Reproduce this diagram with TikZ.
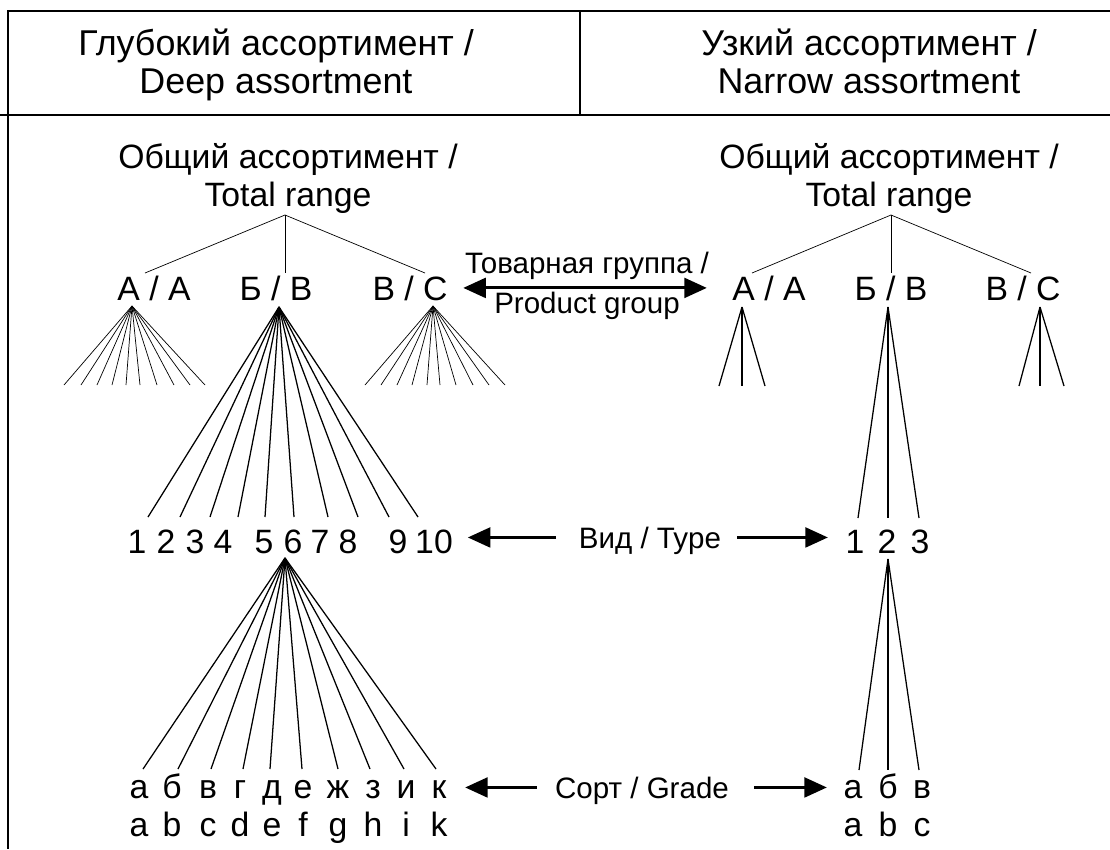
\documentclass[tikz,border=0pt]{standalone}
\usepackage{fontspec}
\setmainfont{Liberation Sans}
\usetikzlibrary{arrows.meta}
\begin{document}
\begin{tikzpicture}[x=0.025cm, y=-0.025cm,
  head/.style = {font=\fontsize{25.5}{27}\selectfont, inner sep=0pt, anchor=base, align=center},
  big/.style = {font=\fontsize{24}{27}\selectfont, inner sep=0pt, anchor=base, align=center},
  small/.style = {font=\fontsize{21}{28.4}\selectfont, inner sep=0pt, anchor=base, align=center},
  bigline/.style = {big, text height=17.2pt, text depth=0pt},
  smallline/.style = {small, text height=15pt, text depth=0pt},
  frame/.style = {line width=1.1pt},
  twig/.style = {line width=0.5pt},
  branch/.style = {line width=0.9pt},
  bigarrow/.style = {line width=2.2pt, -{Triangle[length=16pt,width=14pt]}},
  dblarrow/.style = {line width=2.2pt, {Triangle[length=16pt,width=14pt]}-{Triangle[length=16pt,width=14pt]}}]
\useasboundingbox (0,0) rectangle (1110,849);
% table frame
\draw[frame] (1110,11) -- (8,11) -- (8,849);
\draw[frame] (0,115) -- (1110,115);
\draw[frame] (580,11) -- (580,115);
% column heads
\node[head] (deep) at (276,93) {Глубокий ассортимент /\\Deep assortment};
\node[head] (narrow) at (869,93) {Узкий ассортимент /\\Narrow assortment};
% deep assortment
\node[big] (totL) at (288,206) {Общий ассортимент /\\Total range};
\node[bigline] (gA) at (154,300) {А / A};
\node[bigline] (gB) at (276,300) {Б / B};
\node[bigline] (gC) at (410,300) {В / C};
\coordinate (rootL) at (285,215);
\coordinate (topA) at (145,273);
\coordinate (topB) at (285,273);
\coordinate (topC) at (425,273);
\draw[twig] (topA) -- (rootL) -- (topC);
\draw[twig] (rootL) -- (topB);
\coordinate (apA) at (132,306);
\coordinate (apB) at (279,307);
\coordinate (apC) at (433,306);
\foreach \x [count=\i] in {64,81,97,112,126,140,157,174,190,205}
  \draw[twig] (apA) -- (\x,385) coordinate (fa\i);
\foreach \x [count=\i] in {365,381,397,412,427,440,456,473,489,505}
  \draw[twig] (apC) -- (\x,385) coordinate (fc\i);
\foreach \x/\t [count=\i] in {137/1,166/2,195/3,223/4,264/5,293/6,320/7,348/8,398/9,434/10}
  \node[bigline] (n\i) at (\x,553) {\t};
\foreach \x [count=\i] in {148,180,210,238,265,294,328,358,389,418}
  \draw[branch] (apB) -- (\x,517) coordinate (fb\i);
\coordinate (ap6) at (285,558);
\foreach \x/\c/\l [count=\i] in {139/а/a,172/б/b,208/в/c,240/г/d,272/д/e,303/е/f,338/ж/g,373/з/h,406/и/i,439/к/k}
  \node[big] (s\i) at (\x,836) {\c\\\l};
\foreach \x [count=\i] in {143,178,211,243,270,302,338,370,404,436}
  \draw[branch] (ap6) -- (\x,769) coordinate (fs\i);
% narrow assortment
\node[big] (totR) at (889,206) {Общий ассортимент /\\Total range};
\node[bigline] (hA) at (769,300) {А / A};
\node[bigline] (hB) at (891,300) {Б / B};
\node[bigline] (hC) at (1023,300) {В / C};
\coordinate (rootR) at (891,215);
\coordinate (topA2) at (752,273);
\coordinate (topB2) at (891,273);
\coordinate (topC2) at (1031,273);
\draw[twig] (topA2) -- (rootR) -- (topC2);
\draw[twig] (rootR) -- (topB2);
\coordinate (apA2) at (742,307);
\coordinate (apB2) at (888,307);
\coordinate (apC2) at (1040,307);
\foreach \x in {719,742,765}
  \draw[branch] (apA2) -- (\x,386);
\foreach \x in {1019,1040,1064}
  \draw[branch] (apC2) -- (\x,386);
\node[bigline] (m1) at (855,553) {1};
\node[bigline] (m2) at (887,553) {2};
\node[bigline] (m3) at (920,553) {3};
\foreach \x in {858,888,919}
  \draw[branch] (apB2) -- (\x,518);
\coordinate (ap2) at (888,559);
\node[big] (r1) at (853,836) {а\\a};
\node[big] (r2) at (888,836) {б\\b};
\node[big] (r3) at (922,836) {в\\c};
\foreach \x in {859,888,919}
  \draw[branch] (ap2) -- (\x,770);
% levels
\node[small] (group) at (587,313) {Товарная группа /\\Product group};
\node[smallline] (type) at (650,548) {Вид / Type};
\node[smallline] (grade) at (642,798) {Сорт / Grade};
\draw[dblarrow, shorten <=11pt, shorten >=18pt] (gC.east) -- (gC.east -| hA.west);
\draw[bigarrow, shorten <=16pt, shorten >=10.5pt] (type.west) -- (type.west -| n10.east);
\draw[bigarrow, shorten <=11.4pt, shorten >=12.4pt] (type.east) -- (type.east -| m1.west);
\draw[bigarrow, shorten <=12.8pt, shorten >=12.4pt] (grade.west) -- (grade.west -| s10.east);
\draw[bigarrow, shorten <=17.7pt, shorten >=11.7pt] (grade.east) -- (grade.east -| r1.west);
\end{tikzpicture}
\end{document}
